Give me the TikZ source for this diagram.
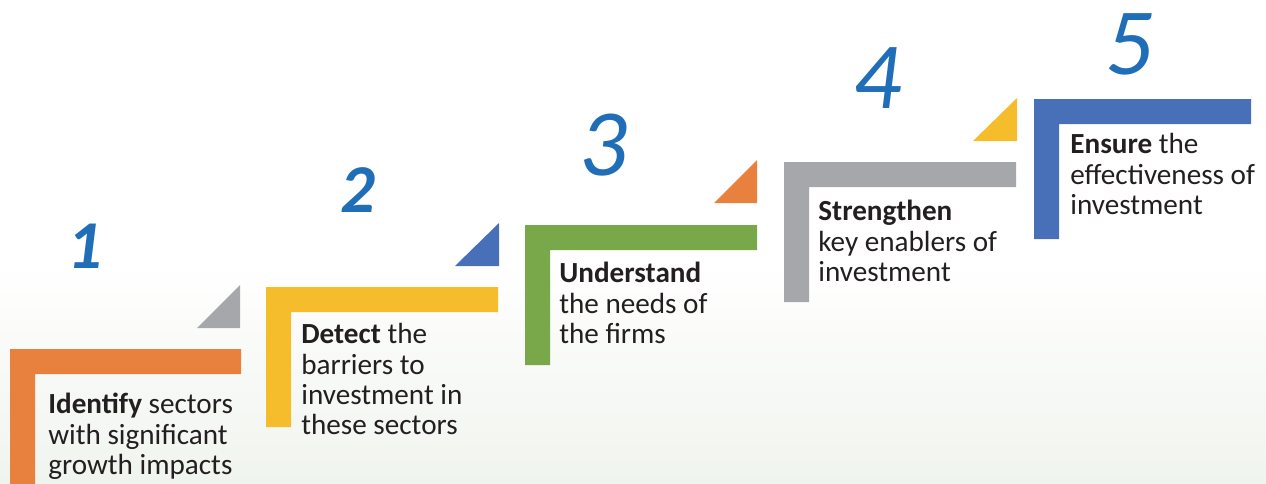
\documentclass[tikz,border=0pt]{standalone}
\usepackage{fontspec}
\setmainfont{Carlito}
\usetikzlibrary{positioning}

\definecolor{stepOrange}{HTML}{E8803E}
\definecolor{stepYellow}{HTML}{F5BC2C}
\definecolor{stepGreen}{HTML}{78A84A}
\definecolor{stepGrey}{HTML}{A6A7AB}
\definecolor{stepBlue}{HTML}{4870B8}
\definecolor{numBlue}{HTML}{1F6EB7}
\definecolor{bodyText}{HTML}{231F20}
\definecolor{bgTint}{HTML}{F0F4EE}

\begin{document}
\begin{tikzpicture}[
    x=0.02cm, y=-0.02cm,
    desc/.style={anchor=north west, inner sep=0pt, align=left, text=bodyText,
        font=\fontsize{16.6}{17.3}\selectfont},
    bignum/.style={text=numBlue, inner sep=0pt, font=\fontsize{54}{54}\selectfont\itshape},
    smallnum/.style={text=numBlue, inner sep=0pt, font=\fontsize{39}{39}\selectfont\itshape\bfseries}
]
    \useasboundingbox (0,0) rectangle (1266,483);
    \clip (0,0) rectangle (1266,483);

    % Background
    \shade[top color=white, bottom color=bgTint] (0,260) rectangle (1266,483);

    % --- STEP 1 ---
    \fill[stepOrange] (10,349) -- ++(231,0) -- ++(0,25) -- ++(-206,0) -- ++(0,115) -- ++(-25,0) -- cycle;
    \fill[stepGrey] (197,328) -- (240,328) -- (240,285) -- cycle;
    \node[smallnum] (num1) at (85,246) {1};
    \node[desc] (text1) at (48,393) {\textbf{Identify} sectors\\with significant\\growth impacts};

    % --- STEP 2 ---
    \fill[stepYellow] (266,287) -- ++(232,0) -- ++(0,25) -- ++(-207,0) -- ++(0,115) -- ++(-25,0) -- cycle;
    \fill[stepBlue] (455,266) -- (499,266) -- (499,223) -- cycle;
    \node[smallnum] (num2) at (358,190) {2};
    \node[desc] (text2) at (301,323) {\textbf{Detect} the\\barriers to\\investment in\\these sectors};

    % --- STEP 3 ---
    \fill[stepGreen] (525,225) -- ++(232,0) -- ++(0,25) -- ++(-207,0) -- ++(0,115) -- ++(-25,0) -- cycle;
    \fill[stepOrange] (714,203) -- (757,203) -- (757,160) -- cycle;
    \node[bignum] (num3) at (604,145) {3};
    \node[desc] (text3) at (559,262) {\textbf{Understand}\\the needs of\\the firms};

    % --- STEP 4 ---
    \fill[stepGrey] (784,162) -- ++(232,0) -- ++(0,25) -- ++(-207,0) -- ++(0,115) -- ++(-25,0) -- cycle;
    \fill[stepYellow] (973,141) -- (1017,141) -- (1017,98) -- cycle;
    \node[bignum] (num4) at (878,78) {4};
    \node[desc] (text4) at (818,200) {\textbf{Strengthen}\\key enablers of\\investment};

    % --- STEP 5 ---
    \fill[stepBlue] (1034,99) -- ++(217,0) -- ++(0,25) -- ++(-192,0) -- ++(0,115) -- ++(-25,0) -- cycle;
    \node[bignum] (num5) at (1130,44) {5};
    \node[desc] (text5) at (1070,133) {\textbf{Ensure} the\\effectiveness of\\investment};

\end{tikzpicture}
\end{document}
